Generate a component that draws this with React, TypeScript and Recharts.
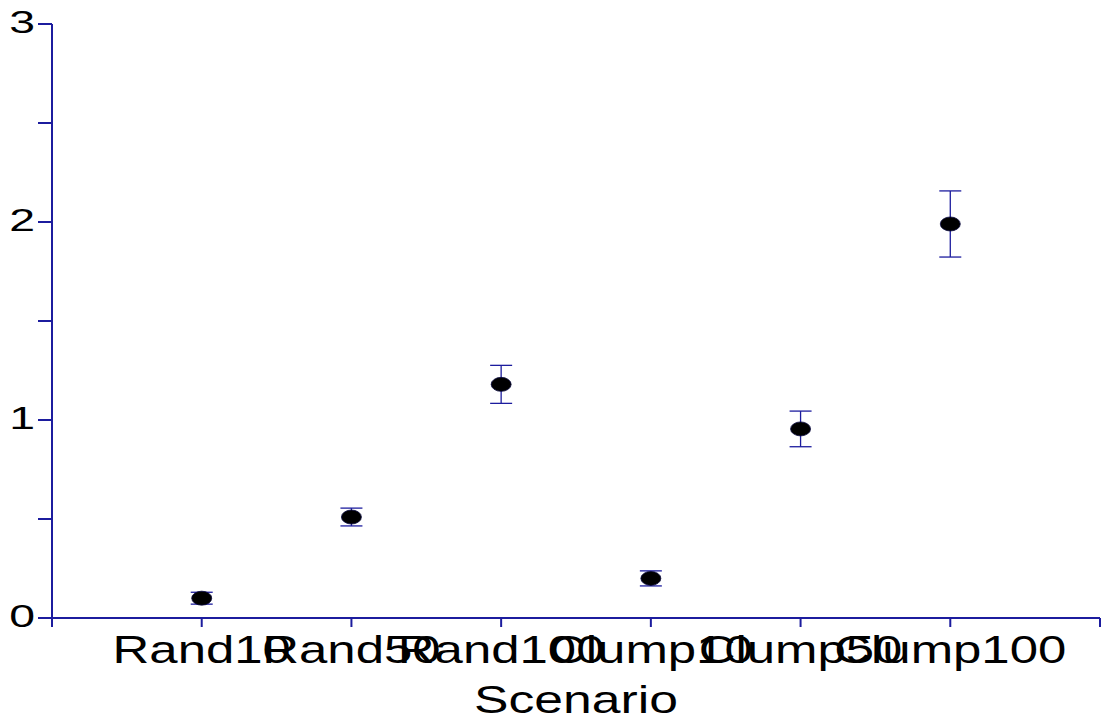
import React from 'react'
import { ComposedChart, Scatter, ErrorBar, XAxis, YAxis } from 'recharts'

// Scenario names, plotted at x = 1..6
const scenarios = ['Rand10', 'Rand50', 'Rand100', 'Clump10', 'Clump50', 'Clump100']
const means = [0.1, 0.51, 1.18, 0.2, 0.955, 1.99]
const errors = [0.03, 0.045, 0.096, 0.038, 0.09, 0.167]

const xTicks = [0, 1, 2, 3, 4, 5, 6, 7]
const yTicks = [0, 0.5, 1, 1.5, 2, 2.5, 3]

const NAVY = '#1c1c9e'
const FONT = '"Liberation Sans", Arial, sans-serif'

const data = scenarios.map((name, i) => ({
  x: i + 1,
  name,
  mean: means[i],
  err: errors[i],
}))

const XTick = (props: any) => {
  const { x, y, payload } = props
  const label = scenarios[payload.value - 1]
  if (!label) return null
  return (
    <text
      transform={`translate(${x},${y + 34}) scale(1.34,1)`}
      textAnchor="middle"
      fontFamily={FONT}
      fontSize={38}
      fill="#000"
    >
      {label}
    </text>
  )
}

const YTick = (props: any) => {
  const { x, y, payload } = props
  if (!Number.isInteger(payload.value)) return null
  return (
    <text
      transform={`translate(${x - 1},${y + 9}) scale(1.45,1)`}
      textAnchor="end"
      fontFamily={FONT}
      fontSize={32}
      fill="#000"
    >
      {payload.value}
    </text>
  )
}

const Dot = (props: any) => {
  const { cx, cy } = props
  return <ellipse cx={cx} cy={cy} rx={10} ry={7} fill="#000" stroke="#0a0a40" strokeWidth={0.8} />
}

const ScenarioLabel = (props: any) => {
  const { viewBox } = props
  const cx = viewBox.x + viewBox.width / 2
  return (
    <text
      transform={`translate(${cx},713) scale(1.36,1)`}
      textAnchor="middle"
      fontFamily={FONT}
      fontSize={38}
      fill="#000"
    >
      Scenario
    </text>
  )
}

export default function App() {
  return (
    <div style={{ position: 'absolute', left: 0, top: 0, background: '#fff' }}>
      <ComposedChart
        width={1103}
        height={724}
        data={data}
        margin={{ top: 24, right: 3, bottom: 0, left: 0 }}
      >
        <XAxis
          type="number"
          dataKey="x"
          domain={[0, 7]}
          ticks={xTicks}
          interval={0}
          height={106}
          tickSize={9}
          tick={<XTick />}
          axisLine={{ stroke: NAVY, strokeWidth: 2 }}
          tickLine={{ stroke: NAVY, strokeWidth: 2 }}
          label={<ScenarioLabel />}
        />
        <YAxis
          type="number"
          domain={[0, 3]}
          ticks={yTicks}
          interval={0}
          width={52}
          tickSize={14}
          tick={<YTick />}
          axisLine={{ stroke: NAVY, strokeWidth: 2 }}
          tickLine={{ stroke: NAVY, strokeWidth: 2 }}
        />
        <Scatter dataKey="mean" shape={<Dot />} isAnimationActive={false}>
          <ErrorBar dataKey="err" direction="y" width={11} stroke={NAVY} strokeWidth={1.3} />
        </Scatter>
      </ComposedChart>
    </div>
  )
}
